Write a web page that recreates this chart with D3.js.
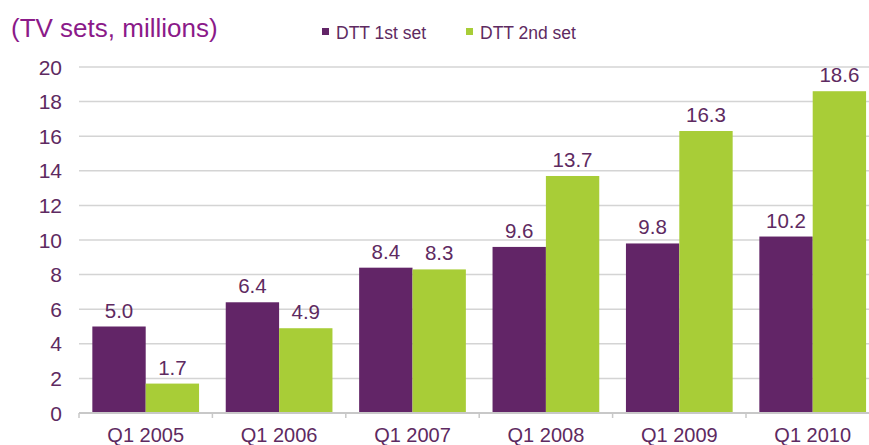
<!DOCTYPE html>
<head>
    <meta charset='utf-8'>
    <title>DTT sets</title>
    <script src='https://d3js.org/d3.v7.min.js'></script>
    <style>
        html, body {
            margin: 0px;
            padding: 0px;
            background: white;
        }
        text {
            font-family: 'Liberation Sans', Arial, sans-serif;
        }
    </style>
</head>
<body>
    <div id='chart'></div>
    <script>
        var quarters = ['Q1 2005', 'Q1 2006', 'Q1 2007', 'Q1 2008', 'Q1 2009', 'Q1 2010'];
        var firstSet = [5.0, 6.4, 8.4, 9.6, 9.8, 10.2];
        var secondSet = [1.7, 4.9, 8.3, 13.7, 16.3, 18.6];
        var seriesNames = ['DTT 1st set', 'DTT 2nd set'];
        var yTicks = [0, 2, 4, 6, 8, 10, 12, 14, 16, 18, 20];

        var width = 869, height = 445;
        var purple = '#622567', green = '#a8cd37', textCol = '#5e2a61';

        var svg = d3.select('#chart').append('svg')
            .attr('width', width)
            .attr('height', height);

        var x = d3.scaleBand().domain(quarters).range([79, 879.4]);
        var y = d3.scaleLinear().domain([0, 20]).range([413, 67]);
        var sub = d3.scaleBand().domain([0, 1]).range([0, x.bandwidth()])
            .paddingInner(0).paddingOuter(0.25);

        // grid
        svg.selectAll('.grid')
            .data(yTicks.slice(1))
            .enter().append('line')
            .attr('x1', 79).attr('x2', width)
            .attr('y1', function(d) { return y(d); })
            .attr('y2', function(d) { return y(d); })
            .attr('stroke', '#d4d4d4')
            .attr('stroke-width', 1.5);

        // y labels
        svg.selectAll('.ylab')
            .data(yTicks)
            .enter().append('text')
            .attr('x', 62)
            .attr('y', function(d) { return y(d) + 7.5; })
            .attr('text-anchor', 'end')
            .attr('font-size', 21)
            .attr('fill', textCol)
            .text(function(d) { return d; });

        var rows = quarters.map(function(q, i) { return [firstSet[i], secondSet[i]]; });

        var groups = svg.selectAll('.grp')
            .data(rows)
            .enter().append('g')
            .attr('transform', function(d, i) { return 'translate(' + x(quarters[i]) + ',0)'; });

        groups.selectAll('rect')
            .data(function(d) { return d; })
            .enter().append('rect')
            .attr('x', function(d, j) { return sub(j); })
            .attr('width', sub.bandwidth())
            .attr('y', function(d) { return y(d); })
            .attr('height', function(d) { return y(0) - y(d); })
            .attr('fill', function(d, j) { return j == 0 ? purple : green; });

        groups.selectAll('.val')
            .data(function(d) { return d; })
            .enter().append('text')
            .attr('x', function(d, j) { return sub(j) + sub.bandwidth() / 2; })
            .attr('y', function(d) { return y(d) - 9; })
            .attr('text-anchor', 'middle')
            .attr('font-size', 20.5)
            .attr('fill', textCol)
            .text(function(d) { return d.toFixed(1); });

        // baseline + ticks
        svg.append('line')
            .attr('x1', 79).attr('x2', width)
            .attr('y1', y(0)).attr('y2', y(0))
            .attr('stroke', '#c8c8c8')
            .attr('stroke-width', 2);

        svg.selectAll('.xtick')
            .data(quarters)
            .enter().append('line')
            .attr('x1', function(d) { return x(d); })
            .attr('x2', function(d) { return x(d); })
            .attr('y1', y(0)).attr('y2', y(0) + 5)
            .attr('stroke', '#c8c8c8')
            .attr('stroke-width', 1.5);

        svg.selectAll('.xlab')
            .data(quarters)
            .enter().append('text')
            .attr('x', function(d) { return x(d) + x.bandwidth() / 2; })
            .attr('y', 442)
            .attr('text-anchor', 'middle')
            .attr('font-size', 20)
            .attr('fill', textCol)
            .text(function(d) { return d; });

        // title
        svg.append('text')
            .attr('x', 11).attr('y', 37)
            .attr('font-size', 26)
            .attr('fill', '#8b1a89')
            .text('(TV sets, millions)');

        // legend
        var legX = [322, 466];
        seriesNames.forEach(function(name, i) {
            svg.append('rect')
                .attr('x', legX[i]).attr('y', 28)
                .attr('width', 7).attr('height', 7)
                .attr('fill', i == 0 ? purple : green);
            svg.append('text')
                .attr('x', legX[i] + 14).attr('y', 39)
                .attr('font-size', 17.5)
                .attr('fill', textCol)
                .text(name);
        });
    </script>
</body>
